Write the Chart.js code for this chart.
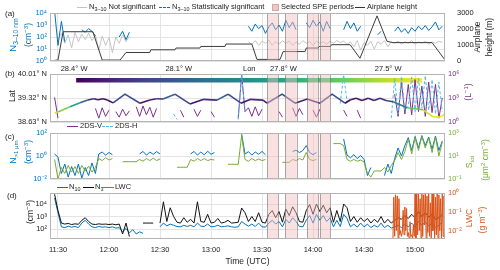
<!DOCTYPE html>
<html>
<head>
<meta charset="utf-8">
<title>Flight time series</title>
<script src="https://cdn.jsdelivr.net/npm/chart.js@4.4.1/dist/chart.umd.min.js"></script>
<style>
  body { margin: 0; background: #fff; }
  #wrap { position: relative; width: 500px; height: 270px; overflow: hidden;
          font-family: "Liberation Sans", Arial, sans-serif; color: #222; }
  canvas { position: absolute; left: 0; }
  .lbl { position: absolute; white-space: nowrap; font-size: 7.5px; line-height: 1; transform: translate(0, -50%); }
  .ttl { position: absolute; white-space: nowrap; font-size: 8.5px; line-height: 1; transform: translate(-50%, -50%) rotate(-90deg); }
  .pan { position: absolute; font-size: 8px; line-height: 1; transform: translate(0, -50%); }
  .ln { position: absolute; height: 0; border-top: 1px solid; }
  sub { font-size: 0.72em; vertical-align: -0.3em; line-height: 0; }
  sup { font-size: 0.72em; vertical-align: 0.45em; line-height: 0; }
</style>
</head>
<body>
<div id="wrap">
  <canvas id="ca" width="500" height="70" style="top:0px"></canvas>
  <canvas id="cb" width="500" height="70" style="top:60px"></canvas>
  <canvas id="cc" width="500" height="62" style="top:125px"></canvas>
  <canvas id="cd" width="500" height="87" style="top:183px"></canvas>

  <!-- legend (a) -->
  <div class="ln" style="left:77px;top:7px;width:10px;border-color:#c4c4c4"></div>
  <div class="lbl" style="left:89px;top:7px">N<sub>3–10</sub> Not significant</div>
  <div class="ln" style="left:159px;top:7px;width:11px;border-top:1px dashed #0072BD"></div>
  <div class="lbl" style="left:172px;top:7px">N<sub>3–10</sub> Statistically significant</div>
  <div style="position:absolute;left:272px;top:4px;width:5px;height:5px;background:#f3c4c4;border:1px solid #c9a9a9"></div>
  <div class="lbl" style="left:281px;top:7px">Selected SPE periods</div>
  <div class="ln" style="left:355px;top:7px;width:10px;border-color:#333"></div>
  <div class="lbl" style="left:367px;top:7px">Airplane height</div>

  <!-- legend (b) -->
  <div class="ln" style="left:67px;top:126px;width:11px;border-color:#7E2F8E"></div>
  <div class="lbl" style="left:80px;top:126px">2DS-V</div>
  <div class="ln" style="left:102px;top:126px;width:11px;border-top:1px dashed #4DBEEE"></div>
  <div class="lbl" style="left:115px;top:126px">2DS-H</div>

  <!-- legend (c) -->
  <div class="ln" style="left:57px;top:187px;width:11px;border-color:#0072BD"></div>
  <div class="lbl" style="left:69px;top:187px">N<sub>10</sub></div>
  <div class="ln" style="left:83px;top:187px;width:11px;border-color:#111"></div>
  <div class="lbl" style="left:95px;top:187px">N<sub>3</sub></div>
  <div class="ln" style="left:103px;top:187px;width:11px;border-color:#D95319"></div>
  <div class="lbl" style="left:115px;top:187px">LWC</div>

  <!-- panel letters -->
  <div class="pan" style="left:5px;top:14px">(a)</div>
  <div class="pan" style="left:5px;top:74px">(b)</div>
  <div class="pan" style="left:5px;top:137px">(c)</div>
  <div class="pan" style="left:7px;top:196px">(d)</div>

  <!-- axis titles -->
  <div class="ttl" style="left:13px;top:35px;color:#0072BD;font-size:9.5px">N<sub>3–10 nm</sub></div>
  <div class="ttl" style="left:28px;top:35px;color:#0072BD">(cm<sup>−3</sup>)</div>
  <div class="ttl" style="left:477px;top:37px">Airplane</div>
  <div class="ttl" style="left:489px;top:37px">height (m)</div>

  <div class="ttl" style="left:12px;top:96px">Lat</div>
  <div class="ttl" style="left:468px;top:92px;color:#7E2F8E">(L<sup>−1</sup>)</div>
  <div class="lbl" style="left:243px;top:69px">Lon</div>

  <div class="ttl" style="left:13px;top:152px;color:#0072BD">N<sub>&gt;1 μm</sub></div>
  <div class="ttl" style="left:28px;top:152px;color:#0072BD">(cm<sup>−3</sup>)</div>
  <div class="ttl" style="left:469px;top:162px;color:#77AC30">S<sub>tot</sub></div>
  <div class="ttl" style="left:485px;top:160px;color:#77AC30">(μm<sup>2</sup> cm<sup>−3</sup>)</div>

  <div class="ttl" style="left:30px;top:212px">(cm<sup>−3</sup>)</div>
  <div class="ttl" style="left:469px;top:218px;color:#D95319">LWC</div>
  <div class="ttl" style="left:482px;top:220px;color:#D95319">(g m<sup>−3</sup>)</div>
</div>

<script>
const _ = null;

// time in minutes after 00:00 UTC
const timeTicks = [690, 720, 750, 780, 810, 840, 870, 900];
const speStart = [813, 823.5, 836.5, 844];
const speEnd = [819.5, 830.5, 843, 850];

const gridStart = 686, gridStep = 2;

// (a) N3-10 and airplane height
const n310NotSig = [
  _, _, 60, 200, 30, 150, 12, 250, 40, 180,
  60, 200, 50, 150, 8, 120, 20, 90, 5, 100,
  30, 150, 40, 120, _, _, _, _, _, _,
  _, _, _, _, _, _, _, _, _, _,
  _, _, _, _, _, _, _, _, _, _,
  _, _, _, _, _, _, _, _, 40, 25,
  50, 20, 45, 30, 55, 20, 40, 25, 50, 30,
  45, 20, 40, 25, 50, 30, 40, 20, 45, 30,
  40, 25, 45, 30, 50, 35, 45, 25, 40, 15,
  50, 8, 35, 20, 45, 10, 40, 25, 50, 15,
  40, 30, 45, 25, 40, 30, 50, 25, 40, 30,
  45, 25, 40, 30, 45, 35];
const n310Sig = [
  _, 15000, 20, 2000, 40, _, _, _, _, 400,
  250, 500, 300, 120, _, _, _, _, _, _,
  100, 300, 60, 250, _, _, _, _, _, _,
  _, _, _, _, _, _, _, _, _, _,
  _, _, _, _, _, _, _, _, _, _,
  _, _, _, _, _, _, _, _, 800, 300,
  1200, 500, 900, 200, 700, 1500, 400, 1000, 300, 2500,
  600, 1800, 400, _, _, 1500, 600, 2500, 800, 1800,
  300, 2000, 500, _, _, _, 400, 2000, 500, 1500,
  300, 800, _, _, _, _, 150, 300, _, _,
  _, 300, 700, 250, 500, 200, 600, 300, 800, 400,
  900, 350, 700, 1800, 400, 800];
const heightTime = [688, 690, 693, 710.5, 716, 726.5, 730, 744, 744.6, 758.8, 759.4, 773.5, 774, 788.2, 788.8,
  804, 807, 820.6, 822.4, 835.3, 836, 843, 843.6, 850.3, 850.9, 861.8, 867.6, 877.6, 883.5, 887, 910, 917.6];
const heightM = [40, 60, 1830, 1830, 60, 60, 530, 530, 700, 700, 810, 810, 910, 910, 1060, 1060,
  100, 100, 590, 590, 810, 810, 910, 910, 1020, 1020, 170, 2820, 1230, 1150, 1150, 60];

// (b) flight track and 2DS concentrations
const trackTime = [688.2, 690, 697, 703, 707.5, 711, 713.5, 716.5, 719, 722.4, 729.4, 738.2, 744, 748, 751.8,
  758.8, 767.6, 775.3, 783.5, 790, 797.6, 802.9, 810.6, 812.9, 821.8, 829.4, 836.5, 844.1, 851.2, 858.8,
  862, 865.3, 868.8, 872.4, 875.9, 879.4, 882.9, 887.1, 895.3, 904.7, 910.6, 914.7, 917.6];
const trackLat = [38.89, 38.92, 39.07, 39.18, 39.26, 39.30, 39.27, 39.30, 39.26, 39.18, 39.43, 39.17, 39.26, 39.30, 39.29,
  39.43, 39.15, 39.28, 39.26, 39.43, 39.17, 39.28, 39.26, 39.17, 39.43, 39.17, 39.29, 39.17, 39.43, 39.17,
  39.27, 39.31, 39.25, 39.31, 39.25, 39.31, 39.25, 39.21, 39.04, 38.98, 38.78, 38.77, 38.86];
const trackLon = [-27.45, -27.5, -27.7, -27.95, -28.2, -28.3, -28.33, -28.35, -28.36, -28.38, -27.97, -28.38, -28.32, -28.28, -28.22,
  -27.97, -28.38, -28.3, -28.22, -27.97, -28.38, -28.3, -28.25, -28.38, -27.95, -28.38, -28.25, -28.38, -27.95, -28.38,
  -28.35, -28.34, -28.33, -28.32, -28.3, -28.28, -28.25, -28.1, -27.8, -27.5, -27.45, -27.43, -27.42];
const lonTicks = [-28.4, -28.1, -27.8, -27.5];
const lonBarMin = -28.394, lonBarMax = -27.403;
const latTicks = [38.63, 39.32, 40.01];
const sdsV = [
  _, 1200, 3, _, _, _, _, _, _, _,
  _, _, _, 50, 3, 60, 5, 30, _, 20,
  4, 40, 6, 25, _, 80, 5, 100, 8, 70,
  4, 50, _, _, _, _, _, _, 30, 4,
  _, _, 40, 5, 30, _, _, 20, 4, _,
  _, _, _, _, _, 3, 800000, 20, 60, 5,
  80, 6, 40, _, _, _, _, 20, 4, _,
  _, 60, 5, 50, 8, _, _, 30, 4, 40,
  _, _, _, _, _, _, 30, 5, _, _,
  30, 3, _, _, _, _, _, _, _, _,
  _, 3000, 5, 100000, 10, 50000, 8, 200000, 20, 30000,
  5, 100000, 15, 50000, 3, 1000];
const sdsH = [
  _, _, _, _, _, _, _, _, _, _,
  _, _, _, _, _, _, _, _, _, _,
  _, _, _, _, _, _, _, _, _, _,
  _, _, _, _, _, _, 10, 2, _, _,
  _, _, _, _, _, _, _, _, _, _,
  _, _, _, _, _, 2, 900000, 10, _, _,
  _, _, _, _, _, _, _, _, _, _,
  _, _, _, _, _, _, _, _, _, _,
  _, _, _, _, _, 200, 800000, 300, _, _,
  _, _, _, _, _, _, _, _, _, _,
  3, 300000, 10, 500000, 30, 100, 400000, 20, 300000, 50,
  600000, 30, 200000, 10, 100000, 20];

// (c) coarse particles and surface area
const nGt1 = [
  _, 1.5, 0.8, 0.03, 0.2, 0.015, 0.12, 0.02, 0.2, 0.012,
  0.1, 0.02, 0.25, 0.03, 1.5, 2.2, 1.2, 2, 1.3, _,
  _, _, _, _, _, _, 1.5, 2.5, 1.2, 2.2,
  1.4, 2.4, 1.5, _, _, _, _, _, _, _,
  _, 1.5, 2.5, 1.2, 2.2, 1.3, 2.6, 1.4, 2, _,
  _, _, _, _, _, _, 80, 1.5, 2.4, 1.2,
  2.2, 1.4, 2.5, 1.3, _, _, _, _, _, _,
  _, 2.5, 3.2, 2, 3, 8, 2, 1.3, 2, _,
  _, _, _, _, _, _, 30, 1.2, 0.7, 1.3,
  0.6, 1.1, 0.5, 0.02, 0.1, _, _, _, 0.02, 0.2,
  0.03, 0.6, 5, 1, 8, 40, 3, 50, 5, 60,
  8, 45, 4, 55, 3, 20];
const sTot = [
  _, 5, 0.1, 1, 0.3, 1.5, 0.4, 1.2, 0.3, 1.5,
  0.5, 1.3, 0.4, 1.0, 6, 4, 7, 4.5, 6, _,
  _, 3.2, 3.2, 3.2, 3.2, 3.2, 5, 3.5, 6, 4,
  6.5, 4, 5.5, _, _, _, _, 1.05, 1.05, 1.05,
  1.05, 5, 3.5, 6, 4, 6, 4, 5, 4.5, _,
  _, _, 1.9, 1.9, 1.9, 1.9, 600, 5, 3.5, 6,
  4, 5.5, 4, 5, _, _, _, _, 2.8, 2.8,
  2.8, 5, 4, 6, 4.5, 20, 5, 4, 5, _,
  _, _, _, 120, 120, 120, 80, 5, 3.5, 5,
  3.5, 4.5, 3, 0.3, 0.15, 0.5, 0.5, 0.5, 1, 0.4,
  1.5, 4, 20, 5, 25, 300, 15, 400, 30, 500,
  50, 350, 20, 450, 10, 150];

// (d) N10, N3 and liquid water content
const n10 = [
  _, 30000, 2000, 150, 130, 170, 140, 160, 130, 300,
  500, 250, 150, 130, 160, 140, 150, 130, 150, 120,
  130, 60, 110, 50, 90, 40, 60, 45, _, _,
  _, _, 150, 300, 180, 250, 200, 160, 150, 200,
  160, 200, 150, 300, 170, 160, 250, 150, 160, 200,
  150, 160, 180, 150, 140, 150, 400, 250, 170, 250,
  160, 300, 150, 140, 300, 500, 250, 400, 150, 600,
  300, 800, 400, 160, 150, 500, 1200, 300, 1500, 500,
  1200, 400, 800, 150, 500, 160, 1500, 700, 150, 250,
  140, 300, 150, 250, 130, 200, 140, 300, 130, 200,
  120, 150, 200, 130, 250, 150, 300, 160, 400, 200,
  350, 180, 300, 130, 200, 350];
const n3 = [
  _, 60000, 3000, 300, 250, 280, 230, 260, 240, 500,
  800, 400, 250, 230, 260, 240, 250, 230, 250, 220,
  250, 40, 300, 25, _, _, _, 300, 300, 300,
  300, _, 300, 15000, 400, 5000, 1000, 350, 300, 800,
  350, 600, 300, 15000, 400, 350, 1500, 300, 350, 700,
  300, 350, 500, 300, 320, 350, 4800, 2000, 400, 1000,
  400, 2000, 350, 300, 1500, 3000, 800, 2500, 350, 4000,
  1200, 6000, 2000, 400, 350, 3000, 9000, 1500, 10000, 2500,
  8000, 2000, 5000, 350, 3000, 400, 10000, 5000, 400, 1000,
  350, 800, 400, 700, 300, 600, 350, 1000, 300, 600,
  300, 500, 800, 600, 1200, 700, 1500, 800, 2500, 1000,
  2000, 900, 1500, 600, 800, 1500];
const lwcStart = 887, lwcStep = 0.5;
const lwc = [
  0.004, 0.6, 0.005, 0.8, 0.01, 0.7, 0.004, 0.5, 0.006, 0.01,
  0.005, 0.008, 0.12, 0.006, 0.18, 0.01, 0.15, 0.005, 0.008, 0.004,
  0.03, 0.005, 0.006, 0.004, 0.02, 0.005, 1.0, 0.004, 0.9, 0.006,
  1.0, 0.01, 0.5, 0.004, 1.0, 0.005, 0.8, 0.02, 1.0, 0.004,
  0.7, 0.008, 1.0, 0.005, 0.3, 0.004, 0.9, 0.01, 1.0, 0.004,
  0.6, 0.006, 1.0, 0.004, 0.8, 0.01, 0.5, 0.004, 0.9, 0.005,
  0.7, 0.004];

// ---------- helpers ----------
const blue = '#0072BD', purple = '#7E2F8E', cyan = '#4DBEEE', green = '#77AC30', orange = '#D95319';
const gridCol = '#e4e4e4';
const sup = { '-': '⁻', '0': '⁰', '1': '¹', '2': '²', '3': '³', '4': '⁴', '5': '⁵', '6': '⁶', '7': '⁷', '8': '⁸', '9': '⁹' };

Chart.defaults.font.family = '"Liberation Sans", Arial, sans-serif';
Chart.defaults.font.size = 7.5;
Chart.defaults.color = '#222';
Chart.defaults.animation = false;
Chart.defaults.plugins.legend.display = false;
Chart.defaults.plugins.tooltip.enabled = false;
Chart.defaults.elements.point.radius = 0;
Chart.defaults.elements.line.borderWidth = 1;

const gridTime = n310Sig.map((v, i) => gridStart + gridStep * i);
const lwcTime = lwc.map((v, i) => lwcStart + lwcStep * i);
const pts = (times, vals) => vals.map((v, i) => ({ x: times[i], y: v }));

function tenPow(v) {
  const e = String(Math.round(Math.log10(v)));
  return '10' + e.split('').map(c => sup[c]).join('');
}
function hhmm(v) {
  return Math.floor(v / 60) + ':' + String(v % 60).padStart(2, '0');
}

function timeAxis(show) {
  return {
    type: 'linear', min: 685.3, max: 917.6,
    afterBuildTicks: s => { s.ticks = timeTicks.map(v => ({ value: v })); },
    grid: { color: gridCol, drawTicks: false },
    border: { display: false },
    ticks: { display: show, padding: 6, maxRotation: 0, callback: v => hhmm(v) },
    title: { display: show, text: 'Time (UTC)', font: { size: 8.5 }, padding: { top: 0, bottom: 3 } },
    afterFit: s => { s.height = show ? 31 : 0; }
  };
}
function logAxis(pos, min, max, ticks, color, grid) {
  return {
    type: 'logarithmic', position: pos, min: min, max: max,
    afterBuildTicks: s => { s.ticks = ticks.map(v => ({ value: v })); },
    ticks: { color: color, padding: 3, callback: v => tenPow(v) },
    grid: { display: grid, color: gridCol, drawTicks: false },
    border: { display: false },
    afterFit: s => { s.width = pos === 'left' ? 50 : 55; }
  };
}

const viridisStops = ['#440154', '#482475', '#414487', '#355f8d', '#2a788e', '#21918c',
  '#22a884', '#44bf70', '#7ad151', '#bddf26', '#fde725'];
function viridis(f) {
  f = Math.min(1, Math.max(0, f));
  const p = f * (viridisStops.length - 1);
  const k = Math.min(Math.floor(p), viridisStops.length - 2), r = p - k;
  const a = viridisStops[k], b = viridisStops[k + 1];
  const ch = (h, o) => parseInt(h.substr(o, 2), 16);
  const mix = o => Math.round(ch(a, o) + (ch(b, o) - ch(a, o)) * r);
  return 'rgb(' + mix(1) + ',' + mix(3) + ',' + mix(5) + ')';
}
const lonFrac = lon => (lon - lonBarMin) / (lonBarMax - lonBarMin);

// ---------- plugins ----------
const boxPlugin = {
  id: 'box',
  afterDraw(chart) {
    const a = chart.chartArea, c = chart.ctx;
    c.save();
    c.strokeStyle = '#b4b4b4';
    c.lineWidth = 1;
    c.strokeRect(a.left + 0.5, a.top + 0.5, a.right - a.left - 1, a.bottom - a.top - 1);
    c.restore();
  }
};
const spePlugin = {
  id: 'spe',
  afterDatasetsDraw(chart) {
    const a = chart.chartArea, c = chart.ctx, xs = chart.scales.x;
    c.save();
    speStart.forEach((s, k) => {
      const x1 = xs.getPixelForValue(s), x2 = xs.getPixelForValue(speEnd[k]);
      c.fillStyle = 'rgba(244,189,189,0.45)';
      c.fillRect(x1, a.top, x2 - x1, a.bottom - a.top);
      c.strokeStyle = 'rgba(110,110,110,0.55)';
      c.beginPath();
      [x1, x2].forEach(x => {
        c.moveTo(Math.round(x) + 0.5, a.top);
        c.lineTo(Math.round(x) + 0.5, a.bottom);
      });
      c.stroke();
    });
    c.restore();
  }
};
const colorbarPlugin = {
  id: 'colorbar',
  beforeDatasetsDraw(chart) {
    const lon = chart.scales.lon, a = chart.chartArea, c = chart.ctx;
    const x1 = lon.getPixelForValue(lonBarMin), x2 = lon.getPixelForValue(lonBarMax);
    const g = c.createLinearGradient(x1, 0, x2, 0);
    viridisStops.forEach((col, k) => g.addColorStop(k / (viridisStops.length - 1), col));
    c.save();
    c.fillStyle = g;
    c.fillRect(x1, a.top + 4, x2 - x1, 4.5);
    c.restore();
  }
};

// ---------- (a) ----------
new Chart(document.getElementById('ca'), {
  type: 'line',
  data: {
    datasets: [
      { data: pts(heightTime, heightM), yAxisID: 'h', borderColor: '#3c3c3c', order: 0 },
      { data: pts(gridTime, n310Sig), yAxisID: 'n', borderColor: blue, order: 1 },
      { data: pts(gridTime, n310NotSig), yAxisID: 'n', borderColor: '#c4c4c4', order: 2 }
    ]
  },
  options: {
    responsive: false,
    layout: { padding: { top: 13, bottom: 9, left: 0, right: 0 } },
    scales: {
      x: timeAxis(false),
      n: logAxis('left', 1, 10000, [1, 10, 100, 1000, 10000], blue, true),
      h: {
        position: 'right', min: 0, max: 3000,
        afterBuildTicks: s => { s.ticks = [0, 1000, 2000, 3000].map(v => ({ value: v })); },
        ticks: { padding: 4, callback: v => String(v) },
        grid: { display: false },
        border: { display: false },
        afterFit: s => { s.width = 55; }
      }
    }
  },
  plugins: [spePlugin, boxPlugin]
});

// ---------- (b) ----------
new Chart(document.getElementById('cb'), {
  type: 'line',
  data: {
    datasets: [
      {
        data: pts(trackTime, trackLat), yAxisID: 'lat', borderWidth: 1.6, order: 0,
        borderColor: viridis(0),
        segment: { borderColor: ctx => viridis((lonFrac(trackLon[ctx.p0DataIndex]) + lonFrac(trackLon[ctx.p1DataIndex])) / 2) }
      },
      { data: pts(gridTime, sdsH), yAxisID: 'conc', borderColor: cyan, borderDash: [3, 2], order: 1 },
      { data: pts(gridTime, sdsV), yAxisID: 'conc', borderColor: purple, order: 2 }
    ]
  },
  options: {
    responsive: false,
    layout: { padding: { top: 2, bottom: 8, left: 0, right: 0 } },
    scales: {
      x: timeAxis(false),
      lon: {
        type: 'linear', position: 'top', min: -28.469, max: -27.337,
        afterBuildTicks: s => { s.ticks = lonTicks.map(v => ({ value: v })); },
        ticks: { padding: 1, callback: v => Math.abs(v).toFixed(1) + '° W' },
        grid: { display: false, drawTicks: false },
        border: { display: false },
        afterFit: s => { s.height = 12; }
      },
      lat: {
        type: 'linear', position: 'left', min: 38.63, max: 40.01,
        afterBuildTicks: s => { s.ticks = latTicks.map(v => ({ value: v })); },
        ticks: { padding: 3, callback: v => v.toFixed(2) + '° N' },
        grid: { color: gridCol, drawTicks: false },
        border: { display: false },
        afterFit: s => { s.width = 50; }
      },
      conc: logAxis('right', 1, 1000000, [1, 1000, 1000000], purple, false)
    }
  },
  plugins: [colorbarPlugin, spePlugin, boxPlugin]
});

// ---------- (c) ----------
new Chart(document.getElementById('cc'), {
  type: 'line',
  data: {
    datasets: [
      { data: pts(gridTime, sTot), yAxisID: 's', borderColor: green, order: 0 },
      { data: pts(gridTime, nGt1), yAxisID: 'n', borderColor: blue, order: 1 }
    ]
  },
  options: {
    responsive: false,
    layout: { padding: { top: 8, bottom: 8, left: 0, right: 0 } },
    scales: {
      x: timeAxis(false),
      n: logAxis('left', 0.01, 100, [0.01, 1, 100], blue, true),
      s: logAxis('right', 0.1, 1000, [0.1, 10, 1000], green, false)
    }
  },
  plugins: [spePlugin, boxPlugin]
});

// ---------- (d) ----------
new Chart(document.getElementById('cd'), {
  type: 'line',
  data: {
    datasets: [
      { data: pts(lwcTime, lwc), yAxisID: 'w', borderColor: orange, order: 0 },
      { data: pts(gridTime, n3), yAxisID: 'n', borderColor: '#111', order: 1 },
      { data: pts(gridTime, n10), yAxisID: 'n', borderColor: blue, order: 2 }
    ]
  },
  options: {
    responsive: false,
    layout: { padding: { top: 10, bottom: 0, left: 0, right: 0 } },
    scales: {
      x: timeAxis(true),
      n: logAxis('left', 16, 76000, [100, 1000, 10000], '#222', true),
      w: logAxis('right', 0.0036, 1, [0.01, 0.1, 1], orange, false)
    }
  },
  plugins: [spePlugin, boxPlugin]
});
</script>
</body>
</html>
